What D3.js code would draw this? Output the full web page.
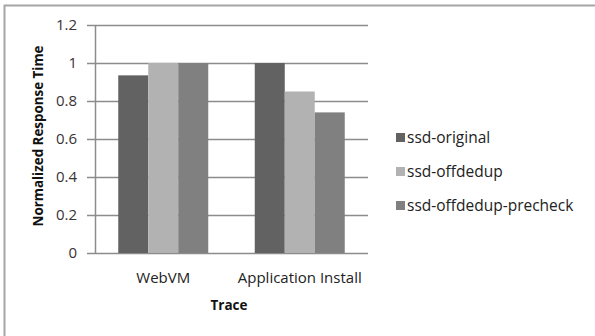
<!DOCTYPE html>
<html>
<head>
<meta charset="utf-8">
<script src="https://cdn.jsdelivr.net/npm/d3@7"></script>
<style>
  body { margin: 0; background: #fff; }
  text { font-family: "Open Sans", "DejaVu Sans", sans-serif; }
</style>
</head>
<body>
<script>
// chart data
const traces = ["WebVM", "Application Install"];
const seriesNames = ["ssd-original", "ssd-offdedup", "ssd-offdedup-precheck"];
const ssdOriginal = [0.935, 1.0];
const ssdOffdedup = [1.0, 0.85];
const ssdPrecheck = [1.0, 0.74];
const yTicks = [0, 0.2, 0.4, 0.6, 0.8, 1, 1.2];

const seriesValues = [ssdOriginal, ssdOffdedup, ssdPrecheck];
const colors = ["#626262", "#b2b2b2", "#808080"];

const W = 595, H = 336;
const plot = { left: 95, right: 368, top: 25, bottom: 253 };

const svg = d3.select("body").append("svg")
    .attr("width", W)
    .attr("height", H);

// outer frame
svg.append("rect")
    .attr("x", 4.5).attr("y", 5.5)
    .attr("width", 600).attr("height", 400)
    .attr("fill", "none")
    .attr("stroke", "#a6a6a6")
    .attr("stroke-width", 2);

const x0 = d3.scaleBand()
    .domain(traces)
    .range([plot.left, plot.right]);

const x1 = d3.scaleBand()
    .domain(seriesNames)
    .range([0, 90]);

const y = d3.scaleLinear()
    .domain([0, 1.2])
    .range([plot.bottom, plot.top]);

// gridlines
svg.append("g")
    .selectAll("line")
    .data(yTicks)
    .enter()
    .append("line")
    .attr("x1", plot.left - 8)
    .attr("x2", plot.right)
    .attr("y1", d => Math.round(y(d)) + 0.5)
    .attr("y2", d => Math.round(y(d)) + 0.5)
    .attr("stroke", "#8c8c8c")
    .attr("stroke-width", 1.5);

// y axis line
svg.append("line")
    .attr("x1", plot.left + 0.5).attr("x2", plot.left + 0.5)
    .attr("y1", plot.top).attr("y2", plot.bottom)
    .attr("stroke", "#8c8c8c")
    .attr("stroke-width", 1.5);

// tick labels
svg.append("g")
    .selectAll("text")
    .data(yTicks)
    .enter()
    .append("text")
    .attr("x", 77)
    .attr("y", d => y(d) + 5)
    .attr("text-anchor", "end")
    .attr("font-size", "15px")
    .attr("fill", "#3a3333")
    .text(d => d);

// bars
const groups = svg.append("g")
    .selectAll("g")
    .data(traces)
    .enter()
    .append("g")
    .attr("transform", d => "translate(" + (x0(d) + x0.bandwidth() / 2 - 45) + ",0)");

groups.selectAll("rect")
    .data((d, i) => seriesNames.map((s, j) => ({ s: s, v: seriesValues[j][i], c: colors[j] })))
    .enter()
    .append("rect")
    .attr("x", d => x1(d.s))
    .attr("y", d => y(d.v))
    .attr("width", x1.bandwidth())
    .attr("height", d => y(0) - y(d.v))
    .attr("fill", d => d.c);

// category labels
svg.append("g")
    .selectAll("text")
    .data(traces)
    .enter()
    .append("text")
    .attr("x", d => x0(d) + x0.bandwidth() / 2)
    .attr("y", 283)
    .attr("text-anchor", "middle")
    .attr("font-size", "15px")
    .attr("fill", "#222")
    .text(d => d);

// axis titles
svg.append("text")
    .attr("x", 229)
    .attr("y", 310)
    .attr("text-anchor", "middle")
    .attr("font-size", "13.5px")
    .attr("font-weight", "bold")
    .attr("fill", "#111")
    .text("Trace");

svg.append("text")
    .attr("transform", "translate(43,136) rotate(-90)")
    .attr("text-anchor", "middle")
    .attr("font-size", "13.4px")
    .attr("font-weight", "bold")
    .attr("fill", "#111")
    .text("Normalized Response Time");

// legend
const legend = svg.append("g")
    .selectAll("g")
    .data(seriesNames)
    .enter()
    .append("g")
    .attr("transform", (d, i) => "translate(396," + (138 + i * 34) + ")");

legend.append("rect")
    .attr("x", 0).attr("y", -5)
    .attr("width", 9).attr("height", 9)
    .attr("fill", (d, i) => colors[i]);

legend.append("text")
    .attr("x", 11)
    .attr("y", 5)
    .attr("font-size", "15.5px")
    .attr("fill", "#222")
    .text(d => d);
</script>
</body>
</html>
